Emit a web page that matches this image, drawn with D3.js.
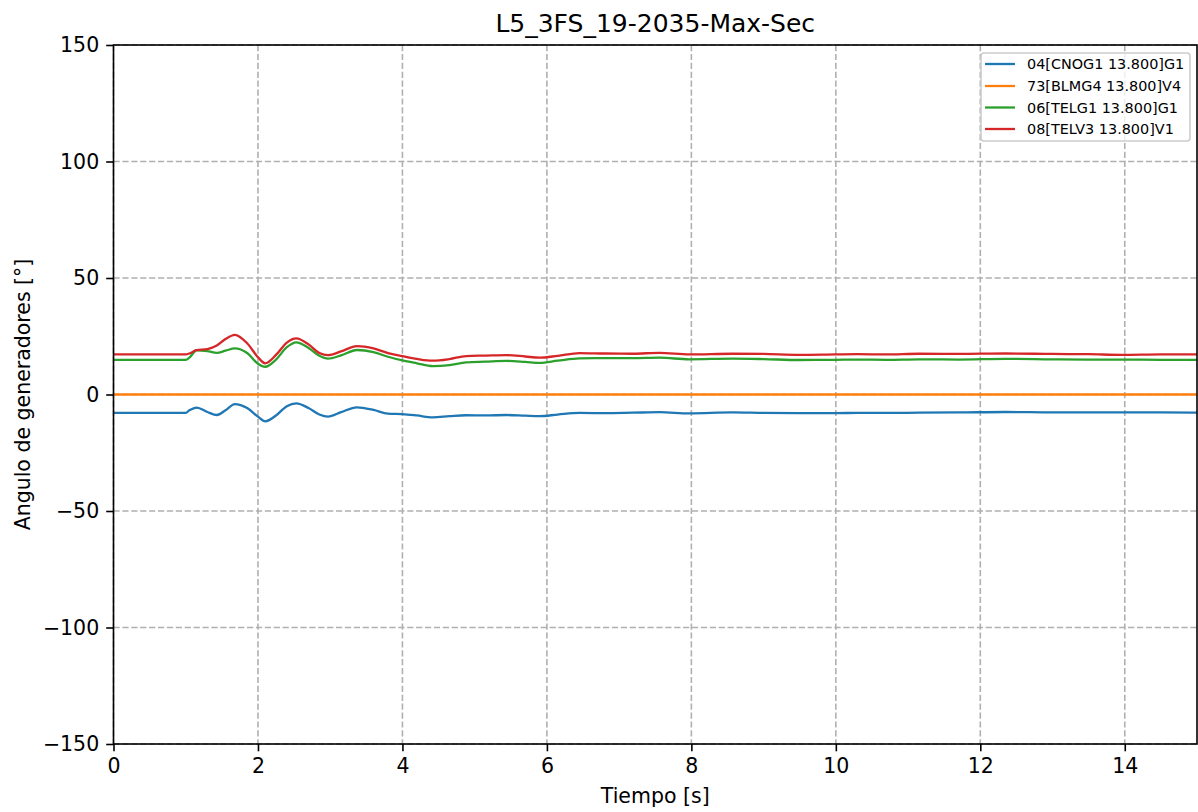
<!DOCTYPE html>
<html>
<head>
<meta charset="utf-8">
<script src="https://cdn.jsdelivr.net/npm/d3@7"></script>
<style>
  html, body { margin: 0; padding: 0; background: #fff; }
  svg text { font-family: "DejaVu Sans", sans-serif; fill: #000; }
</style>
</head>
<body>
<svg id="chart" width="1198" height="812"></svg>
<script>
const title = "L5_3FS_19-2035-Max-Sec";
const xLabel = "Tiempo [s]";
const yLabel = "Angulo de generadores [°]";
const seriesNames = ["04[CNOG1 13.800]G1", "73[BLMG4 13.800]V4", "06[TELG1 13.800]G1", "08[TELV3 13.800]V1"];
const seriesColors = ["#1f77b4", "#ff7f0e", "#2ca02c", "#d62728"];
const xTicks = [0, 2, 4, 6, 8, 10, 12, 14];
const yTicks = [-150, -100, -50, 0, 50, 100, 150];

const time = [0, 1.0, 1.05, 1.15, 1.3, 1.43, 1.55, 1.68, 1.85, 2.0, 2.1, 2.25, 2.4, 2.53, 2.7, 2.85, 2.97, 3.15, 3.37, 3.6, 3.8, 4.0, 4.2, 4.42, 4.65, 4.88, 5.15, 5.44, 5.7, 5.9, 6.15, 6.45, 6.8, 7.19, 7.56, 7.97, 8.57, 9.0, 9.49, 10.0, 10.3, 10.7, 11.15, 11.7, 12.35, 13.0, 13.5, 13.96, 14.5, 15];

const cnog1 = [-7.9, -7.9, -6.8, -5.6, -7.5, -8.8, -6.8, -4.1, -5.8, -9.5, -11.5, -9.0, -5.0, -3.8, -5.8, -8.6, -9.5, -7.6, -5.5, -6.6, -8.2, -8.4, -9.0, -9.8, -9.3, -8.9, -9.0, -8.8, -9.1, -9.3, -8.6, -7.9, -8.0, -7.8, -7.6, -8.1, -7.7, -7.9, -8.0, -8.0, -7.9, -7.9, -7.8, -7.7, -7.5, -7.7, -7.7, -7.7, -7.7, -7.8];
const blmg4 = [0, 0, 0, 0, 0, 0, 0, 0, 0, 0, 0, 0, 0, 0, 0, 0, 0, 0, 0, 0, 0, 0, 0, 0, 0, 0, 0, 0, 0, 0, 0, 0, 0, 0, 0, 0, 0, 0, 0, 0, 0, 0, 0, 0, 0, 0, 0, 0, 0, 0];
const telg1 = [14.9, 14.9, 15.8, 19.0, 18.6, 17.9, 18.8, 19.8, 17.8, 13.2, 11.9, 15.0, 20.3, 22.4, 20.0, 16.6, 15.4, 16.8, 19.1, 18.2, 16.2, 14.6, 13.4, 12.2, 12.6, 13.8, 14.1, 14.4, 14.0, 13.6, 14.5, 15.5, 15.6, 15.6, 15.8, 15.1, 15.4, 15.2, 14.8, 14.9, 15.0, 14.9, 15.1, 15.0, 15.3, 15.1, 15.0, 15.0, 14.9, 14.9];
const telv3 = [17.2, 17.2, 17.6, 19.0, 19.5, 21.0, 23.8, 25.6, 22.0, 16.0, 13.4, 17.0, 22.3, 24.1, 21.5, 17.8, 16.9, 18.5, 20.8, 19.8, 17.8, 16.5, 15.3, 14.5, 15.2, 16.5, 16.7, 16.9, 16.3, 15.8, 16.6, 17.8, 17.6, 17.5, 17.9, 17.2, 17.5, 17.4, 17.0, 17.2, 17.3, 17.2, 17.5, 17.4, 17.6, 17.4, 17.3, 17.0, 17.2, 17.2];

const seriesValues = [cnog1, blmg4, telg1, telv3];

const svg = d3.select("#chart");
const margin = { left: 113.5, right: 1197, top: 45, bottom: 744 };

const x = d3.scaleLinear().domain([0, 15]).range([margin.left, margin.right]);
const y = d3.scaleLinear().domain([-150, 150]).range([margin.bottom, margin.top]);

// clip
svg.append("defs").append("clipPath").attr("id", "clip")
  .append("rect").attr("x", margin.left).attr("y", margin.top)
  .attr("width", margin.right - margin.left).attr("height", margin.bottom - margin.top);

// grid
const grid = svg.append("g").attr("class", "grid");
grid.selectAll("line.vx").data(xTicks).join("line")
  .attr("x1", d => x(d)).attr("x2", d => x(d))
  .attr("y1", margin.top).attr("y2", margin.bottom)
  .attr("stroke", "#b0b0b0").attr("stroke-width", 1.6)
  .attr("stroke-dasharray", "6.2,2.7");
grid.selectAll("line.hy").data(yTicks).join("line")
  .attr("x1", margin.left).attr("x2", margin.right)
  .attr("y1", d => y(d)).attr("y2", d => y(d))
  .attr("stroke", "#b0b0b0").attr("stroke-width", 1.6)
  .attr("stroke-dasharray", "6.2,2.7");

// lines
const line = d3.line()
  .x((d, i) => x(time[i]))
  .y(d => y(d))
  .curve(d3.curveMonotoneX);

svg.append("g").attr("clip-path", "url(#clip)")
  .selectAll("path").data(seriesValues).join("path")
  .attr("d", d => line(d))
  .attr("fill", "none")
  .attr("stroke", (d, i) => seriesColors[i])
  .attr("stroke-width", 2.3)
  .attr("stroke-linejoin", "round")
  .attr("stroke-linecap", "square");

// axes
const xAxis = d3.axisBottom(x).tickValues(xTicks).tickSize(7.3).tickPadding(7).tickSizeOuter(0);
const yAxis = d3.axisLeft(y).tickValues(yTicks).tickSize(7.3).tickPadding(7).tickSizeOuter(0)
  .tickFormat(d => d < 0 ? "\u2212" + Math.abs(d) : String(d));

const gx = svg.append("g").attr("transform", `translate(0,${margin.bottom})`).call(xAxis);
const gy = svg.append("g").attr("transform", `translate(${margin.left},0)`).call(yAxis);
[gx, gy].forEach(g => {
  g.select(".domain").remove();
  g.selectAll(".tick line").attr("stroke", "#000").attr("stroke-width", 1.6);
  g.selectAll(".tick text").attr("font-size", 20.5).attr("fill", "#000")
    .style("font-family", "'DejaVu Sans', sans-serif");
});

// spines
svg.append("rect")
  .attr("x", margin.left).attr("y", margin.top)
  .attr("width", margin.right - margin.left).attr("height", margin.bottom - margin.top)
  .attr("fill", "none").attr("stroke", "#000").attr("stroke-width", 1.6);

// title & labels
svg.append("text").attr("x", (margin.left + margin.right) / 2).attr("y", 32)
  .attr("text-anchor", "middle").attr("font-size", 25).text(title);
svg.append("text").attr("x", (margin.left + margin.right) / 2).attr("y", 803)
  .attr("text-anchor", "middle").attr("font-size", 20.5).text(xLabel);
svg.append("text").attr("transform", `translate(29.5,${(margin.top + margin.bottom) / 2}) rotate(-90)`)
  .attr("text-anchor", "middle").attr("font-size", 20.5).text(yLabel);

// legend
const lg = svg.append("g");
lg.append("rect").attr("x", 981).attr("y", 53).attr("width", 209).attr("height", 88)
  .attr("rx", 3).attr("fill", "#fff").attr("fill-opacity", 0.8)
  .attr("stroke", "#cccccc").attr("stroke-width", 1.6);
const rowY = [64, 86, 107.5, 129];
seriesNames.forEach((name, i) => {
  lg.append("line").attr("x1", 985).attr("x2", 1015).attr("y1", rowY[i]).attr("y2", rowY[i])
    .attr("stroke", seriesColors[i]).attr("stroke-width", 2.3);
  lg.append("text").attr("x", 1027).attr("y", rowY[i] + 5.2).attr("font-size", 14.4).text(name);
});
</script>
</body>
</html>
